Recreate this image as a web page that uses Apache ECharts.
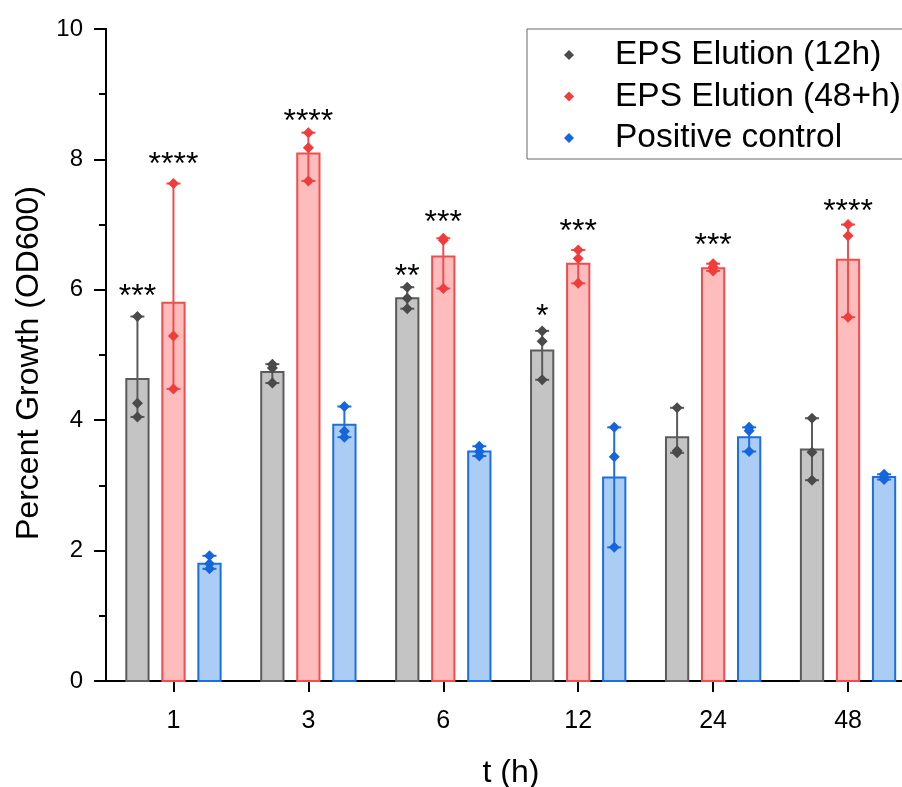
<!DOCTYPE html>
<html>
<head>
<meta charset="utf-8">
<style>
  html, body { margin: 0; padding: 0; background: #fff; }
  #chart { width: 902px; height: 787px; }
</style>
<script src="https://cdn.jsdelivr.net/npm/echarts@6/dist/echarts.min.js"></script>
</head>
<body>
<div id="chart"></div>
<script>
// time points (h)
var categories = ['1', '3', '6', '12', '24', '48'];

// bar heights (mean OD600 growth)
var eps12Mean = [4.63, 4.74, 5.87, 5.07, 3.74, 3.55];
var eps48Mean = [5.80, 8.09, 6.51, 6.40, 6.33, 6.46];
var posMean = [1.80, 3.93, 3.52, 3.12, 3.74, 3.13];

// replicate points
var eps12Points = [[5.59, 4.26, 4.05], [4.86, 4.80, 4.57], [6.04, 5.87, 5.71], [5.37, 5.21, 4.62], [4.19, 3.53, 3.50], [4.03, 3.51, 3.08]];
var eps48Points = [[7.63, 5.29, 4.48], [8.41, 8.18, 7.67], [6.79, 6.76, 6.02], [6.61, 6.48, 6.10], [6.40, 6.35, 6.29], [7.00, 6.83, 5.58]];
var posPoints = [[1.92, 1.80, 1.72], [4.21, 3.83, 3.74], [3.60, 3.52, 3.45], [3.89, 3.44, 2.05], [3.89, 3.84, 3.52], [3.17, 3.13, 3.09]];

// significance marks and the height they sit at
var eps12Stars = ['***', '', '**', '*', '', ''];
var eps12StarY = [6.00, 0, 6.30, 5.69, 0, 0];
var eps48Stars = ['****', '****', '***', '***', '***', '****'];
var eps48StarY = [8.02, 8.68, 7.13, 6.99, 6.78, 7.30];

var FONT = '"Liberation Sans", Arial, sans-serif';
var BAR_W = 0.165;
var OFFSET = 0.267;
// group i is centred at x = i + 0.5 so the y axis sits on x = 0
var SHIFT = 0.5;
var Y_MAX = 10;

var colors = {
  eps12: { fill: '#c4c4c4', stroke: '#5b5b5b', point: '#4a4a4a' },
  eps48: { fill: '#ffbcbc', stroke: '#f24c4c', point: '#f23c3c' },
  pos: { fill: '#abcdf4', stroke: '#1c6fe0', point: '#1565df' }
};

// bar + error bar (min..max of replicates) + stars
function barSeries(name, means, points, stars, starY, offset, c, drawAxis) {
  var data = means.map(function (m, i) {
    return [i + SHIFT, m, Math.min.apply(null, points[i]), Math.max.apply(null, points[i])];
  });
  return {
    name: name,
    type: 'custom',
    z: 2,
    clip: false,
    data: data,
    encode: { x: 0, y: [1, 2, 3] },
    itemStyle: { color: c.point },
    renderItem: function (params, api) {
      var x = api.value(0) + offset;
      var top = api.coord([x, api.value(1)]);
      var base = api.coord([x, 0]);
      var lo = api.coord([x, api.value(2)]);
      var hi = api.coord([x, api.value(3)]);
      var w = api.size([BAR_W, 0])[0];
      var cx = top[0];
      var line = { stroke: c.stroke, lineWidth: 2 };
      var children = [
        { type: 'rect', shape: { x: cx - w / 2, y: top[1], width: w, height: base[1] - top[1] },
          style: { fill: c.fill, stroke: c.stroke, lineWidth: 2 } },
        { type: 'line', shape: { x1: cx, y1: lo[1], x2: cx, y2: hi[1] }, style: line },
        { type: 'line', shape: { x1: cx - 7, y1: hi[1], x2: cx + 7, y2: hi[1] }, style: line },
        { type: 'line', shape: { x1: cx - 7, y1: lo[1], x2: cx + 7, y2: lo[1] }, style: line }
      ];
      var s = stars[params.dataIndex];
      if (s) {
        var sp = api.coord([x, starY[params.dataIndex]]);
        children.push({
          type: 'text', x: sp[0], y: sp[1] + 7,
          style: { text: s, fill: '#000', fontSize: 32, fontFamily: FONT, align: 'center', verticalAlign: 'middle' }
        });
      }
      // left axis line along x = 0
      if (drawAxis && params.dataIndex === 0) {
        var a0 = api.coord([0, 0]);
        var a1 = api.coord([0, Y_MAX]);
        children.push({ type: 'line', shape: { x1: a0[0], y1: a0[1] + 1, x2: a1[0], y2: a1[1] - 1 },
          style: { stroke: '#000', lineWidth: 2 } });
      }
      return { type: 'group', children: children };
    }
  };
}

function pointSeries(name, points, offset, c) {
  var data = [];
  points.forEach(function (pts, i) {
    pts.forEach(function (v) { data.push([i + SHIFT + offset, v]); });
  });
  return {
    name: name,
    type: 'scatter',
    z: 4,
    symbol: 'diamond',
    symbolSize: 11,
    itemStyle: { color: c.point, opacity: 1 },
    data: data
  };
}

var ticks = categories.map(function (c, i) { return i + SHIFT; });

var chart = echarts.init(document.getElementById('chart'));
chart.setOption({
  animation: false,
  textStyle: { fontFamily: FONT },
  grid: { left: 106, right: 0, top: 29, bottom: 106, containLabel: false, outerBoundsMode: 'none' },
  legend: {
    orient: 'vertical',
    left: 527,
    top: 29,
    icon: 'diamond',
    itemWidth: 10,
    itemHeight: 10,
    itemGap: 7.5,
    padding: [9, 2, 4, 37],
    borderColor: '#666',
    borderWidth: 1,
    data: ['EPS Elution (12h)', 'EPS Elution (48+h)', 'Positive control'],
    textStyle: { fontSize: 33.5, color: '#000', fontFamily: FONT, lineHeight: 32, padding: [0, 0, 0, 36] }
  },
  xAxis: {
    type: 'value',
    min: 0,
    max: 5.9,
    name: 't (h)',
    nameLocation: 'middle',
    nameGap: 76,
    nameTextStyle: { fontSize: 32, color: '#000', fontFamily: FONT, padding: [0, 0, 0, 14] },
    axisLine: { show: true, lineStyle: { color: '#000', width: 2 } },
    axisTick: { customValues: ticks, length: 11, lineStyle: { color: '#000', width: 2 } },
    axisLabel: {
      customValues: ticks,
      formatter: function (v) { return categories[Math.round(v - SHIFT)]; },
      fontSize: 25, color: '#000', margin: 28, fontFamily: FONT
    },
    splitLine: { show: false }
  },
  yAxis: {
    type: 'value',
    min: 0,
    max: Y_MAX,
    interval: 2,
    name: 'Percent Growth (OD600)',
    nameLocation: 'middle',
    nameGap: 61,
    nameTextStyle: { fontSize: 32, color: '#000', fontFamily: FONT, padding: [0, 16, 0, 0] },
    axisLine: { show: true, lineStyle: { color: '#000', width: 2 } },
    axisTick: { show: true, length: 12, lineStyle: { color: '#000', width: 2 } },
    minorTick: { show: true, splitNumber: 2, length: 7, lineStyle: { color: '#000', width: 2 } },
    axisLabel: { fontSize: 24, color: '#000', margin: 23, fontFamily: FONT },
    splitLine: { show: false }
  },
  series: [
    pointSeries('EPS Elution (12h)', eps12Points, -OFFSET, colors.eps12),
    pointSeries('EPS Elution (48+h)', eps48Points, 0, colors.eps48),
    pointSeries('Positive control', posPoints, OFFSET, colors.pos),
    barSeries('EPS Elution (12h)', eps12Mean, eps12Points, eps12Stars, eps12StarY, -OFFSET, colors.eps12, true),
    barSeries('EPS Elution (48+h)', eps48Mean, eps48Points, eps48Stars, eps48StarY, 0, colors.eps48, false),
    barSeries('Positive control', posMean, posPoints, ['', '', '', '', '', ''], [], OFFSET, colors.pos, false)
  ]
});
window.addEventListener('resize', function () { chart.resize(); });
</script>
</body>
</html>
